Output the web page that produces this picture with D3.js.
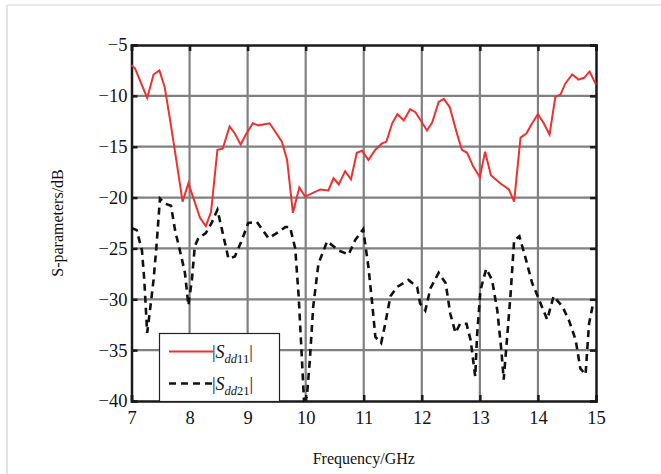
<!DOCTYPE html>
<html>
<head>
<meta charset="utf-8">
<script src="https://cdn.jsdelivr.net/npm/d3@7"></script>
<style>
  body { margin: 0; background: #fff; }
  svg { display: block; }
  svg text { font-family: "Liberation Serif", "Times New Roman", serif; }
</style>
</head>
<body>
<script>
// |Sdd11| readings (GHz, dB)
const sdd11Freq = [7.0, 7.06, 7.27, 7.38, 7.48, 7.57, 7.66, 7.75, 7.88, 7.98, 8.18, 8.28, 8.37, 8.48, 8.57, 8.69, 8.78, 8.88, 8.96, 9.09, 9.19, 9.38, 9.59, 9.68, 9.78, 9.89, 9.99, 10.25, 10.39, 10.48, 10.57, 10.68, 10.78, 10.88, 10.97, 11.08, 11.2, 11.31, 11.39, 11.49, 11.58, 11.69, 11.8, 11.89, 12.09, 12.18, 12.29, 12.38, 12.48, 12.61, 12.69, 12.78, 12.89, 13.0, 13.09, 13.19, 13.35, 13.5, 13.59, 13.7, 13.8, 13.9, 14.0, 14.1, 14.2, 14.3, 14.39, 14.47, 14.59, 14.7, 14.8, 14.89, 15.0];
const sdd11 = [-7.0, -7.3, -10.2, -7.9, -7.5, -9.1, -12.2, -15.5, -20.4, -18.6, -22.0, -22.8, -21.4, -15.3, -15.2, -13.0, -13.7, -14.8, -13.9, -12.7, -12.9, -12.7, -14.5, -16.3, -21.5, -19.0, -19.9, -19.2, -19.3, -18.1, -18.7, -17.4, -18.2, -15.6, -15.4, -16.3, -15.3, -14.7, -14.5, -12.7, -11.8, -12.4, -11.3, -11.6, -13.4, -12.6, -10.6, -10.3, -11.1, -13.8, -15.3, -15.6, -17.0, -18.0, -15.5, -17.8, -18.6, -19.2, -20.4, -14.1, -13.7, -12.7, -11.8, -12.7, -13.8, -10.1, -9.85, -8.8, -7.9, -8.4, -8.2, -7.6, -8.9];

// |Sdd21| readings (GHz, dB)
const sdd21Freq = [7.0, 7.09, 7.18, 7.22, 7.27, 7.32, 7.38, 7.43, 7.49, 7.58, 7.68, 7.75, 7.87, 7.92, 7.98, 8.04, 8.09, 8.15, 8.28, 8.38, 8.48, 8.56, 8.67, 8.78, 8.9, 9.01, 9.16, 9.36, 9.5, 9.65, 9.73, 9.82, 9.88, 9.93, 9.97, 10.02, 10.07, 10.13, 10.22, 10.37, 10.57, 10.74, 10.85, 10.99, 11.08, 11.14, 11.2, 11.3, 11.37, 11.46, 11.57, 11.77, 11.92, 11.97, 12.06, 12.15, 12.29, 12.41, 12.49, 12.58, 12.66, 12.77, 12.84, 12.92, 12.95, 13.01, 13.11, 13.21, 13.3, 13.37, 13.41, 13.47, 13.53, 13.59, 13.68, 13.78, 13.9, 14.01, 14.16, 14.27, 14.42, 14.53, 14.65, 14.73, 14.82, 14.88, 14.94, 15.0];
const sdd21 = [-23.0, -23.2, -25.2, -28.1, -33.3, -31.0, -28.1, -24.8, -20.1, -20.6, -20.8, -23.2, -26.1, -27.4, -30.6, -28.1, -24.8, -24.0, -23.5, -22.5, -21.2, -23.2, -26.0, -25.8, -24.2, -22.5, -22.4, -24.0, -23.5, -22.9, -22.9, -25.0, -29.8, -35.3, -39.9, -39.6, -36.1, -30.7, -26.5, -24.3, -25.2, -25.6, -24.2, -23.1, -26.8, -30.1, -33.7, -34.3, -32.4, -29.7, -28.8, -28.1, -28.8, -30.4, -31.1, -28.9, -27.4, -28.4, -31.4, -33.3, -32.4, -32.4, -34.0, -37.6, -33.7, -29.1, -27.0, -28.1, -31.1, -35.0, -37.9, -33.7, -29.4, -24.2, -23.8, -25.8, -28.4, -29.9, -32.0, -29.7, -30.7, -32.0, -34.0, -36.8, -37.4, -32.4, -30.7, -31.0];

const xTicks = [7, 8, 9, 10, 11, 12, 13, 14, 15];
const yTicks = [-40, -35, -30, -25, -20, -15, -10, -5];

const width = 661, height = 474;
const plotL = 131.5, plotR = 596, plotT = 45, plotB = 401;
const serif = "'Liberation Serif', 'Times New Roman', serif";

const svg = d3.select("body").append("svg")
    .attr("width", width)
    .attr("height", height);

// faint page border
svg.append("line").attr("x1", 7).attr("x2", 7).attr("y1", 5).attr("y2", height)
    .attr("stroke", "#d4d4d4").attr("stroke-width", 1.2);
svg.append("line").attr("x1", 7).attr("x2", width).attr("y1", 5).attr("y2", 5)
    .attr("stroke", "#d4d4d4").attr("stroke-width", 1.2);

const x = d3.scaleLinear().domain([7, 15]).range([plotL, plotR]);
const y = d3.scaleLinear().domain([-40, -5]).range([plotB, plotT]);

// grid
svg.append("g").selectAll("line").data(xTicks.slice(1, -1)).enter().append("line")
    .attr("x1", d => x(d)).attr("x2", d => x(d))
    .attr("y1", plotT).attr("y2", plotB)
    .attr("stroke", "#808080").attr("stroke-width", 2.2);
svg.append("g").selectAll("line").data(yTicks.slice(1, -1)).enter().append("line")
    .attr("x1", plotL).attr("x2", plotR)
    .attr("y1", d => y(d)).attr("y2", d => y(d))
    .attr("stroke", "#808080").attr("stroke-width", 2.2);

// axes with inward ticks
const minus = d => String(d).replace("-", "\u2212");
const axisB = svg.append("g").attr("transform", `translate(0,${plotB})`)
    .call(d3.axisBottom(x).tickValues(xTicks).tickSize(-6).tickPadding(10).tickFormat(d3.format("d")));
const axisL = svg.append("g").attr("transform", `translate(${plotL},0)`)
    .call(d3.axisLeft(y).tickValues(yTicks).tickSize(-6).tickPadding(4).tickFormat(minus));
const axisT = svg.append("g").attr("transform", `translate(0,${plotT})`)
    .call(d3.axisTop(x).tickValues(xTicks).tickSize(-6).tickFormat(""));
const axisR = svg.append("g").attr("transform", `translate(${plotR},0)`)
    .call(d3.axisRight(y).tickValues(yTicks).tickSize(-6).tickFormat(""));

[axisB, axisL, axisT, axisR].forEach(g => {
    g.attr("font-family", null);
    g.select(".domain").attr("stroke", "#1a1a1a").attr("stroke-width", 2.5);
    g.selectAll(".tick line").attr("stroke", "#1a1a1a").attr("stroke-width", 2.5);
    g.selectAll("text").style("font-family", serif)
        .style("font-size", "18.5px").attr("fill", "#111");
});

// curves
const line = d3.line().x(d => x(d[0])).y(d => y(d[1]));
svg.append("path")
    .datum(d3.zip(sdd21Freq, sdd21))
    .attr("d", line)
    .attr("fill", "none").attr("stroke", "#111")
    .attr("stroke-width", 2.6).attr("stroke-dasharray", "7,5");
svg.append("path")
    .datum(d3.zip(sdd11Freq, sdd11))
    .attr("d", line)
    .attr("fill", "none").attr("stroke", "#f03030")
    .attr("stroke-width", 2);

// legend
const lg = svg.append("g");
lg.append("rect").attr("x", 159.5).attr("y", 333.5).attr("width", 120).attr("height", 68)
    .attr("fill", "#fff").attr("stroke", "#222").attr("stroke-width", 1.2);
const legendItems = [
    { label: "11", color: "#f03030", dash: null, w: 2, yy: 351.5 },
    { label: "21", color: "#111", dash: "7,5", w: 2.6, yy: 383.5 }
];
legendItems.forEach(it => {
    lg.append("line").attr("x1", 169).attr("x2", 213).attr("y1", it.yy).attr("y2", it.yy)
        .attr("stroke", it.color).attr("stroke-width", it.w)
        .attr("stroke-dasharray", it.dash);
    const t = lg.append("text").attr("x", 212).attr("y", it.yy + 6)
        .style("font-family", serif).style("font-size", "18px").attr("fill", "#111");
    t.append("tspan").text("|");
    t.append("tspan").attr("font-style", "italic").text("S");
    t.append("tspan").attr("font-style", "italic").style("font-size", "12.5px").attr("dy", 5).text("dd");
    t.append("tspan").style("font-size", "12.5px").text(it.label);
    t.append("tspan").attr("dy", -5).text("|");
});

// axis titles
svg.append("text").attr("x", (plotL + plotR) / 2).attr("y", 464)
    .attr("text-anchor", "middle").style("font-family", serif).style("font-size", "16px").attr("fill", "#111")
    .text("Frequency/GHz");
svg.append("text")
    .attr("transform", `translate(63,${(plotT + plotB) / 2}) rotate(-90)`)
    .attr("text-anchor", "middle").style("font-family", serif).style("font-size", "16px").attr("fill", "#111")
    .text("S-parameters/dB");
</script>
</body>
</html>
